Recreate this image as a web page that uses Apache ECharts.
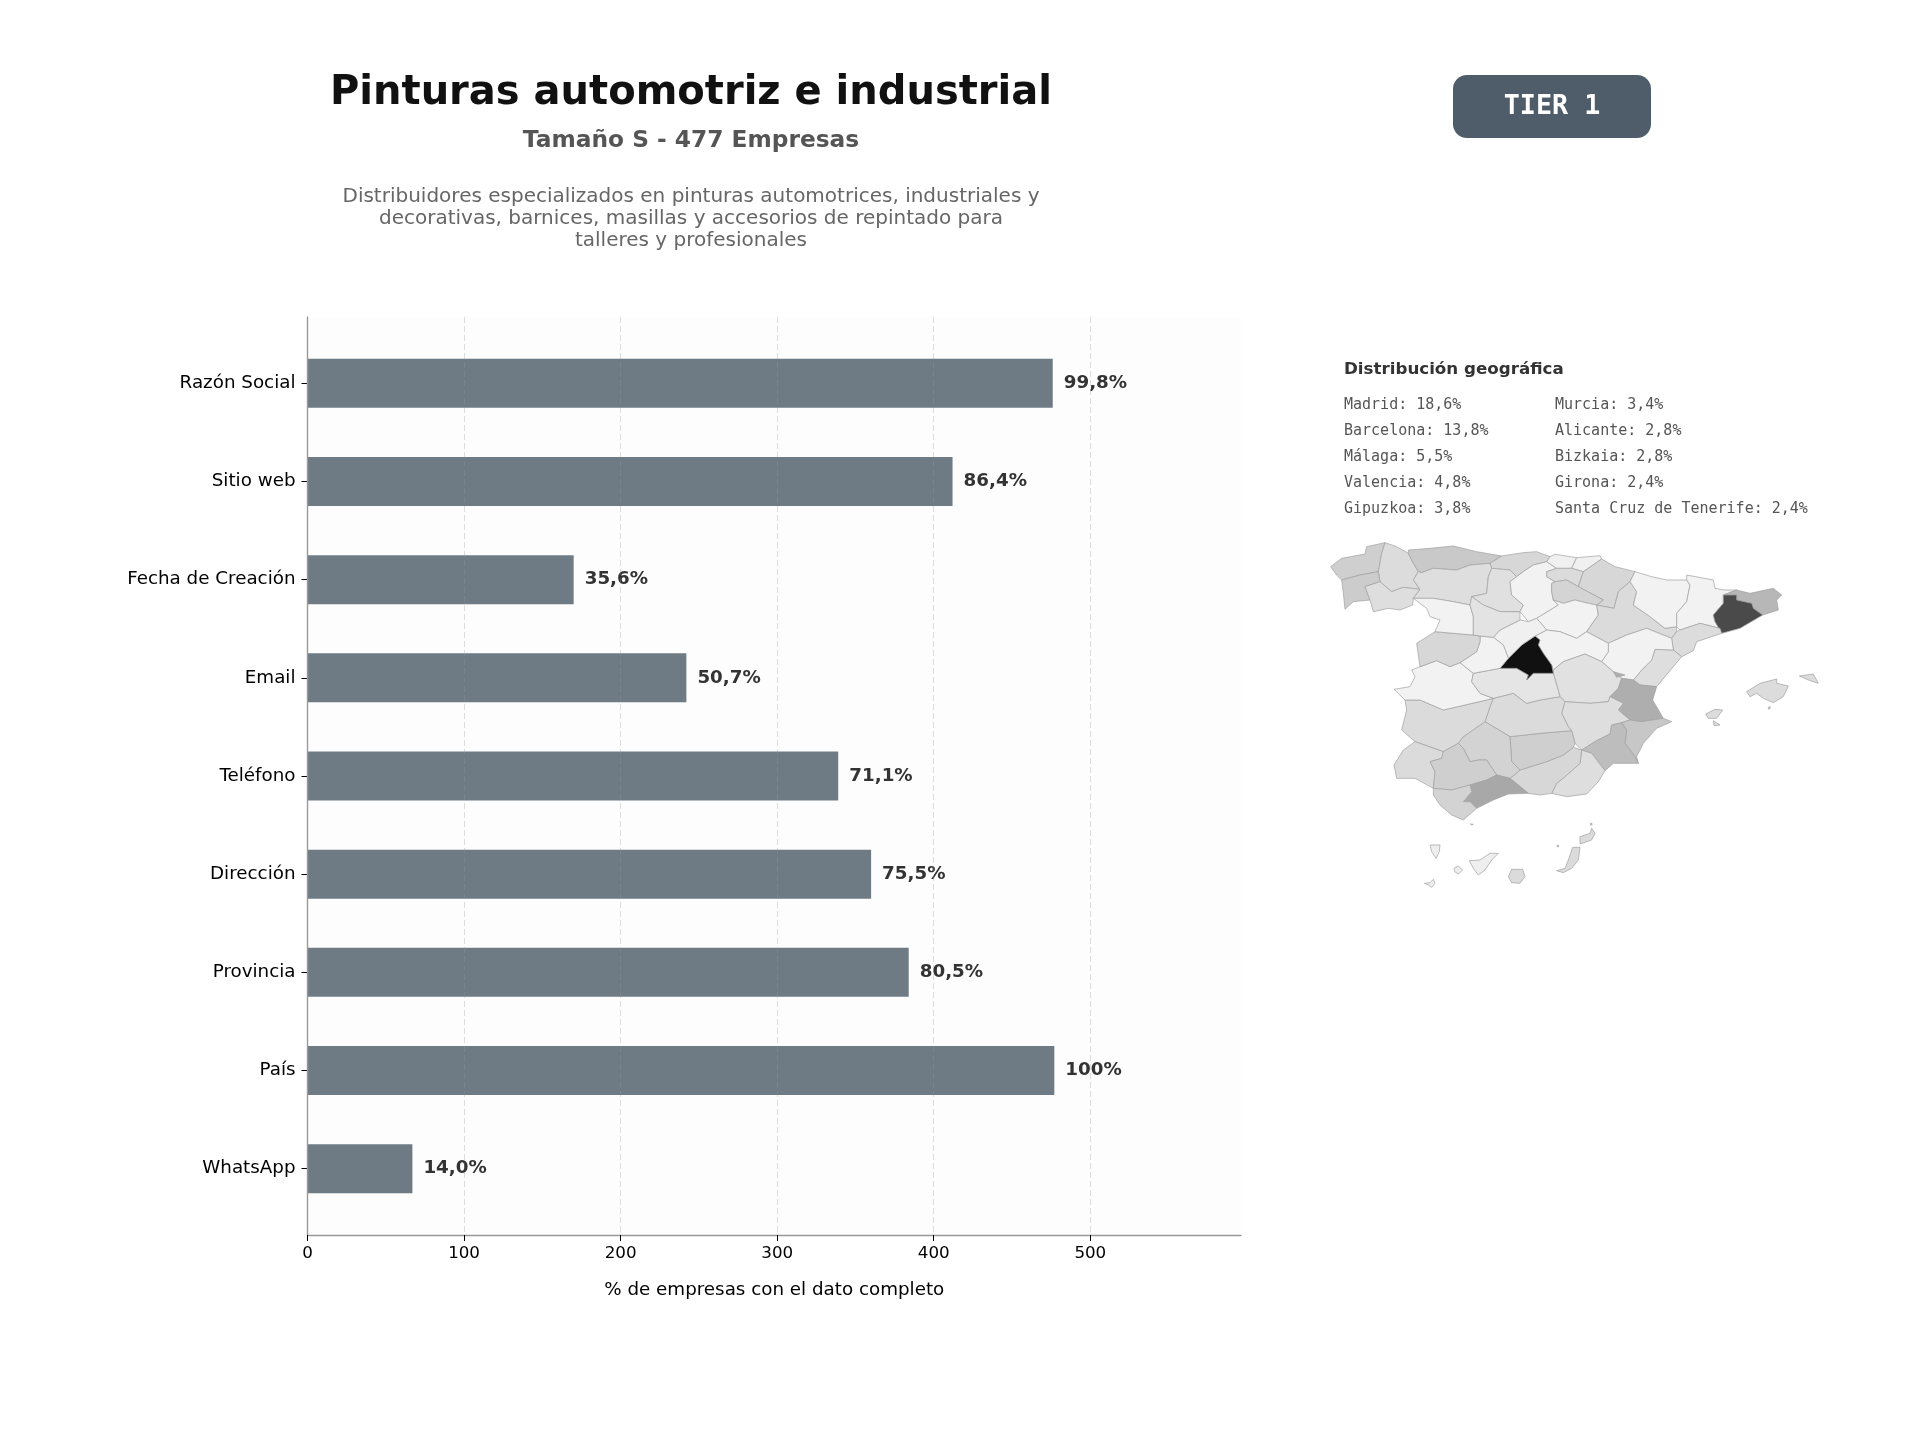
<!DOCTYPE html>
<html>
<head>
<meta charset="utf-8">
<title>Pinturas automotriz e industrial</title>
<script src="https://cdn.jsdelivr.net/npm/echarts@6/dist/echarts.min.js"></script>
<style>
html, body { margin: 0; padding: 0; background: #fff; }
#main { width: 1920px; height: 1440px; }
</style>
</head>
<body>
<div id="main"></div>
<script>
var categories = ['Razón Social', 'Sitio web', 'Fecha de Creación', 'Email', 'Teléfono', 'Dirección', 'Provincia', 'País', 'WhatsApp'];
var companies = [476, 412, 170, 242, 339, 360, 384, 477, 67];
var percentLabels = ['99,8%', '86,4%', '35,6%', '50,7%', '71,1%', '75,5%', '80,5%', '100%', '14,0%'];
var xTicks = [0, 100, 200, 300, 400, 500];

var topNamesLeft = ['Madrid', 'Barcelona', 'Málaga', 'Valencia', 'Gipuzkoa'];
var topSharesLeft = ['18,6%', '13,8%', '5,5%', '4,8%', '3,8%'];
var topNamesRight = ['Murcia', 'Alicante', 'Bizkaia', 'Girona', 'Santa Cruz de Tenerife'];
var topSharesRight = ['3,4%', '2,8%', '2,8%', '2,4%', '2,4%'];

var provinceNames = ['A Coruña', 'Lugo', 'Pontevedra', 'Ourense', 'Asturias', 'Cantabria', 'León', 'Palencia', 'Burgos', 'Bizkaia', 'Gipuzkoa', 'Álava', 'Navarra', 'La Rioja', 'Soria', 'Zaragoza', 'Huesca', 'Lleida', 'Girona', 'Barcelona', 'Tarragona', 'Castellón', 'Teruel', 'Guadalajara', 'Cuenca', 'Valencia', 'Albacete', 'Alicante', 'Murcia', 'Almería', 'Granada', 'Jaén', 'Ciudad Real', 'Córdoba', 'Badajoz', 'Cáceres', 'Huelva', 'Sevilla', 'Málaga', 'Cádiz', 'Toledo', 'Madrid', 'Segovia', 'Ávila', 'Salamanca', 'Zamora', 'Valladolid', 'Baleares', 'Santa Cruz de Tenerife', 'Las Palmas', 'Ceuta', 'Melilla'];
var provinceShades = [2.3, 1.5, 2.5, 1.4, 2.7, 1.8, 1.4, 1.3, 0.2, 0.3, 0.3, 1.6, 1.8, 2.0, 0.2, 1.6, 0.2, 0.2, 3.8, 13.8, 1.5, 1.4, 0.2, 0.2, 1.2, 4.8, 1.4, 2.8, 3.4, 1.4, 1.8, 2.3, 1.6, 2.1, 1.6, 0.2, 1.6, 2.3, 5.5, 2.1, 1.0, 18.6, 0.3, 0.2, 1.8, 0.2, 1.1, 1.5, 0.4, 1.6, 2.0, 2.0];

// contornos aproximados de las provincias
var provinceRings = {
	'A Coruña': [[[32,110],[65,85],[135,72],[140,50],[195,38],[185,70],[175,125],[120,135],[65,150],[50,135]]],
	'Lugo': [[[195,38],[230,50],[265,70],[280,100],[295,125],[280,150],[300,178],[250,172],[215,185],[180,155],[175,125],[185,70]]],
	'Pontevedra': [[[65,150],[120,135],[175,125],[180,155],[135,170],[150,210],[100,215],[75,238],[70,190]]],
	'Ourense': [[[135,170],[180,155],[215,185],[250,172],[300,178],[280,205],[278,225],[240,240],[205,235],[160,245],[150,210]]],
	'Asturias': [[[265,70],[265,60],[330,55],[400,48],[470,65],[545,78],[510,100],[450,105],[410,120],[340,115],[305,128],[295,125],[280,100]]],
	'Cantabria': [[[545,78],[610,68],[650,65],[690,80],[680,95],[640,105],[610,125],[590,140],[570,120],[515,115],[510,100]]],
	'León': [[[305,128],[340,115],[410,120],[450,105],[510,100],[515,115],[505,140],[500,190],[455,200],[450,225],[400,215],[340,205],[280,205],[300,178],[280,150],[295,125]]],
	'Palencia': [[[515,115],[570,120],[590,140],[570,155],[575,195],[610,225],[600,245],[540,245],[490,225],[455,200],[500,190],[505,140]]],
	'Burgos': [[[610,125],[640,105],[680,95],[710,115],[680,125],[680,140],[705,155],[695,160],[695,185],[700,210],[715,225],[650,265],[625,275],[600,245],[610,225],[575,195],[570,155],[590,140]]],
	'Bizkaia': [[[690,80],[705,73],[770,83],[755,115],[710,115],[680,95]]],
	'Gipuzkoa': [[[770,83],[840,77],[845,87],[790,125],[755,115]]],
	'Álava': [[[680,125],[710,115],[755,115],[790,125],[775,170],[740,150],[705,155],[680,140]]],
	'Navarra': [[[790,125],[845,87],[885,110],[945,125],[930,155],[895,185],[882,235],[830,225],[850,210],[775,170]]],
	'La Rioja': [[[705,155],[740,150],[775,170],[850,210],[830,225],[805,220],[765,210],[730,220],[700,210],[695,185],[695,160]]],
	'Soria': [[[700,210],[730,220],[765,210],[805,220],[830,225],[835,255],[800,305],[770,325],[720,305],[680,300],[650,265],[715,225]]],
	'Zaragoza': [[[830,225],[882,235],[895,185],[930,155],[950,185],[940,225],[990,260],[1035,295],[1070,290],[1070,305],[1055,325],[980,295],[920,315],[865,340],[800,305],[835,255]]],
	'Huesca': [[[945,125],[995,140],[1040,150],[1100,150],[1110,165],[1100,215],[1070,250],[1070,290],[1035,295],[990,260],[940,225],[950,185],[930,155]]],
	'Lleida': [[[1100,135],[1180,150],[1185,175],[1215,180],[1250,180],[1210,195],[1210,220],[1180,255],[1185,275],[1200,295],[1140,280],[1080,300],[1070,290],[1070,250],[1100,215],[1110,165],[1100,150]]],
	'Girona': [[[1250,180],[1290,190],[1360,175],[1385,195],[1370,210],[1375,240],[1328,255],[1300,235],[1295,220],[1250,210],[1250,195],[1210,195]]],
	'Barcelona': [[[1210,195],[1250,195],[1250,210],[1295,220],[1300,235],[1328,255],[1260,295],[1205,310],[1185,275],[1180,255],[1210,220]]],
	'Tarragona': [[[1070,305],[1080,300],[1140,280],[1200,295],[1205,310],[1130,335],[1120,362],[1085,380],[1060,360],[1055,325]]],
	'Castellón': [[[1005,358],[1060,360],[1085,380],[1010,470],[960,465],[940,450],[965,420],[995,390]]],
	'Teruel': [[[865,340],[920,315],[980,295],[1055,325],[1060,360],[1005,358],[995,390],[965,420],[940,450],[905,445],[880,425],[845,395],[865,365]]],
	'Guadalajara': [[[680,300],[720,305],[770,325],[800,305],[865,340],[865,365],[845,395],[795,372],[730,395],[700,420],[695,405],[670,370],[655,345],[660,330],[645,318]]],
	'Cuenca': [[[700,430],[700,420],[730,395],[795,372],[845,395],[880,425],[905,445],[895,475],[870,500],[865,515],[810,520],[735,515],[720,500]]],
	'Valencia': [[[905,445],[940,450],[960,465],[1010,470],[998,510],[1030,565],[965,575],[930,570],[895,540],[910,520],[870,500],[895,475]], [[880,425],[915,435],[890,442]]],
	'Albacete': [[[735,515],[810,520],[865,515],[870,500],[910,520],[895,540],[930,570],[905,578],[875,585],[870,612],[830,632],[785,660],[765,640],[755,602],[745,590],[725,550]]],
	'Alicante': [[[905,578],[930,570],[965,575],[1030,565],[1055,575],[1010,595],[970,640],[950,680],[955,700],[945,680],[915,640],[920,600]]],
	'Murcia': [[[785,660],[830,632],[870,612],[875,585],[905,578],[920,600],[915,640],[945,680],[955,700],[880,700],[855,722],[815,670]]],
	'Almería': [[[785,660],[815,670],[855,722],[835,755],[800,792],[740,800],[695,790],[710,760],[735,740],[780,700]]],
	'Granada': [[[600,720],[680,695],[730,675],[760,652],[785,660],[780,700],[735,740],[710,760],[695,790],[660,795],[625,790],[570,745],[595,725]]],
	'Jaén': [[[570,620],[660,610],[755,602],[765,640],[760,652],[730,675],[680,695],[600,720],[575,695]]],
	'Ciudad Real': [[[520,505],[580,490],[620,520],[660,510],[720,500],[735,515],[725,550],[745,590],[755,602],[660,610],[570,620],[495,575],[510,530]]],
	'Córdoba': [[[430,620],[495,575],[570,620],[575,695],[600,720],[595,725],[570,745],[530,735],[500,690],[475,690],[450,695],[430,655],[415,640]]],
	'Badajoz': [[[255,510],[300,510],[370,540],[500,510],[520,505],[510,530],[495,575],[430,620],[415,640],[370,665],[285,635],[245,600],[260,540]]],
	'Cáceres': [[[255,510],[300,510],[370,540],[500,510],[520,505],[480,490],[455,455],[460,430],[420,398],[390,410],[350,392],[300,410],[275,420],[285,440],[270,470],[222,478]]],
	'Huelva': [[[285,635],[370,665],[365,685],[330,695],[345,725],[340,775],[285,745],[230,745],[222,705],[250,660]]],
	'Sevilla': [[[370,665],[415,640],[430,655],[450,695],[475,690],[500,690],[530,735],[500,750],[450,765],[395,780],[340,775],[345,725],[330,695],[365,685]]],
	'Málaga': [[[430,815],[455,785],[450,765],[500,750],[530,735],[570,745],[625,790],[565,792],[520,810],[470,835],[450,815]]],
	'Cádiz': [[[340,775],[395,780],[450,765],[455,785],[430,815],[450,815],[470,835],[430,870],[395,855],[360,825],[340,795]]],
	'Toledo': [[[460,430],[540,415],[590,415],[625,435],[620,450],[640,430],[700,430],[720,500],[660,510],[620,520],[580,490],[520,505],[480,490],[455,455]]],
	'Madrid': [[[645,318],[660,330],[655,345],[670,370],[695,405],[700,430],[640,430],[620,450],[625,435],[590,415],[540,415],[565,385],[605,345]]],
	'Segovia': [[[600,270],[625,275],[650,265],[680,300],[645,318],[605,345],[565,385],[550,345],[520,322],[540,300]]],
	'Ávila': [[[480,318],[520,322],[550,345],[565,385],[540,415],[460,430],[420,398],[470,365],[480,335]]],
	'Salamanca': [[[345,305],[400,310],[460,315],[480,318],[480,335],[470,365],[420,398],[390,410],[350,392],[300,410],[290,340]]],
	'Zamora': [[[280,205],[340,205],[400,215],[450,225],[460,260],[460,315],[400,310],[345,305],[360,270],[330,260],[320,235]]],
	'Valladolid': [[[455,200],[490,225],[540,245],[600,245],[600,270],[540,300],[520,322],[480,318],[460,315],[460,260],[450,225]]],
	'Baleares': [[[1280,485],[1320,460],[1370,447],[1370,460],[1405,468],[1390,500],[1360,518],[1330,505],[1310,490],[1290,500]], [[1438,438],[1480,432],[1495,460],[1465,450]], [[1157,552],[1185,538],[1208,540],[1190,565],[1165,565]], [[1180,572],[1200,585],[1182,587]], [[1345,532],[1351,530],[1350,536],[1345,537]]],
	'Santa Cruz de Tenerife': [[[330,945],[360,945],[358,965],[348,985],[335,965]], [[448,992],[480,990],[510,970],[535,970],[515,990],[495,1020],[475,1035],[460,1015]], [[402,1015],[415,1008],[428,1020],[415,1032],[404,1025]], [[313,1060],[330,1058],[340,1048],[345,1060],[335,1072],[325,1065]]],
	'Las Palmas': [[[575,1018],[608,1018],[615,1040],[600,1060],[575,1058],[565,1040]], [[758,952],[780,952],[775,990],[755,1015],[730,1028],[710,1022],[735,1015],[745,990]], [[780,920],[810,910],[815,895],[825,910],[815,930],[780,942]], [[811,880],[816,880],[816,885],[811,885]]],
	'Ceuta': [[[451,882],[460,883],[455,885]]],
	'Melilla': [[[711,946],[716,946],[716,950],[711,950]]]
};

function buildGeoJson() {
	var features = provinceNames.map(function(name) {
		var polys = provinceRings[name].map(function(ring) {
			var pts = ring.map(function(p) { return [p[0], -p[1]]; });
			pts.push(pts[0]);
			return [pts];
		});
		return {
			type: 'Feature',
			properties: { name: name },
			geometry: { type: 'MultiPolygon', coordinates: polys }
		};
	});
	return { type: 'FeatureCollection', features: features };
}

echarts.registerMap('espana', buildGeoJson());

var mapData = provinceNames.map(function(name, i) {
	return { name: name, value: provinceShades[i] };
});

var fontSans = '"DejaVu Sans", sans-serif';
var fontMono = '"DejaVu Sans Mono", monospace';

var plotLeft = 307.5, plotWidth = 933.5, plotTop = 317, plotHeight = 918;
var xMax = 596.25;
var bandInset = 17.2;

// textos del panel geografico
function geoListTexts(names, shares, x) {
	return names.map(function(name, i) {
		return {
			type: 'text',
			x: x,
			y: 405.2 + i * 26.1,
			style: {
				text: name + ': ' + shares[i],
				fill: '#555555',
				font: '15px ' + fontMono,
				textAlign: 'left',
				textVerticalAlign: 'middle'
			}
		};
	});
}

var graphics = [{
	type: 'rect',
	shape: { x: 1453, y: 75, width: 198, height: 63, r: 14 },
	style: { fill: '#4f5d6b' }
}, {
	type: 'text',
	x: 1552,
	y: 107,
	style: {
		text: 'TIER 1',
		fill: '#ffffff',
		font: 'bold 26.7px ' + fontMono,
		textAlign: 'center',
		textVerticalAlign: 'middle'
	}
}, {
	type: 'text',
	x: 1344,
	y: 369.5,
	style: {
		text: 'Distribución geográfica',
		fill: '#333333',
		font: 'bold 16.7px ' + fontSans,
		textAlign: 'left',
		textVerticalAlign: 'middle'
	}
}].concat(geoListTexts(topNamesLeft, topSharesLeft, 1344), geoListTexts(topNamesRight, topSharesRight, 1555));

var option = {
	backgroundColor: '#ffffff',
	animation: false,
	title: [{
		text: 'Pinturas automotriz e industrial',
		left: 686,
		top: 69,
		textAlign: 'center',
		textStyle: { fontFamily: fontSans, fontSize: 40, fontWeight: 'bold', color: '#111111' }
	}, {
		text: 'Tamaño S - 477 Empresas',
		left: 686,
		top: 124.5,
		textAlign: 'center',
		textStyle: { fontFamily: fontSans, fontSize: 23.3, fontWeight: 'bold', color: '#555555' }
	}, {
		text: 'Distribuidores especializados en pinturas automotrices, industriales y\ndecorativas, barnices, masillas y accesorios de repintado para\ntalleres y profesionales',
		left: 686,
		top: 180.5,
		textAlign: 'center',
		textStyle: { fontFamily: fontSans, fontSize: 20, fontWeight: 'normal', color: '#666666', lineHeight: 22, align: 'center' }
	}],
	grid: [{
		left: plotLeft, top: plotTop, width: plotWidth, height: plotHeight,
		show: true, backgroundColor: '#fdfdfd', borderWidth: 0
	}, {
		left: plotLeft, top: plotTop + bandInset, width: plotWidth, height: plotHeight - 2 * bandInset
	}],
	xAxis: [{
		gridIndex: 0,
		type: 'value',
		min: 0,
		max: xMax,
		interval: 100,
		z: 5,
		name: '% de empresas con el dato completo',
		nameLocation: 'middle',
		nameGap: 46,
		nameTextStyle: { fontFamily: fontSans, fontSize: 18.3, color: '#000000' },
		axisLine: { show: true, lineStyle: { color: '#999999', width: 1.4 } },
		axisTick: { show: true, length: 6, lineStyle: { color: '#000000', width: 1 },
			customValues: xTicks },
		axisLabel: { fontFamily: fontSans, fontSize: 16.7, color: '#000000', margin: 10,
			customValues: xTicks, hideOverlap: false },
		splitLine: { show: true, lineStyle: { color: 'rgba(150,150,150,0.3)', type: [6, 3], width: 1 } }
	}, {
		gridIndex: 1,
		type: 'value',
		min: 0,
		max: xMax,
		show: false
	}],
	yAxis: [{
		gridIndex: 0,
		type: 'value',
		min: 0,
		max: 1,
		z: 5,
		axisLine: { show: true, lineStyle: { color: '#999999', width: 1.4 } },
		axisTick: { show: false },
		axisLabel: { show: false },
		splitLine: { show: false }
	}, {
		gridIndex: 1,
		type: 'category',
		inverse: true,
		data: categories,
		axisLine: { show: false },
		axisTick: { show: true, length: 6, alignWithLabel: true, lineStyle: { color: '#000000', width: 1 } },
		axisLabel: {
			fontFamily: fontSans, fontSize: 18.3, color: '#000000', margin: 12, interval: 0,
			verticalAlign: 'middle', lineHeight: 22, padding: [4, 0, 0, 0]
		}
	}],
	visualMap: {
		show: false,
		seriesIndex: 1,
		min: 0,
		max: 18.6,
		inRange: { color: ['#f5f5f5', '#b8b8b8', '#969696', '#696969', '#3e3e3e', '#111111'] }
	},
	series: [{
		type: 'bar',
		xAxisIndex: 1,
		yAxisIndex: 1,
		data: companies,
		barWidth: 49,
		itemStyle: { color: '#6f7b84' },
		label: {
			show: true,
			position: 'right',
			distance: 11,
			fontFamily: fontSans,
			fontSize: 18.3,
			fontWeight: 'bold',
			color: '#333333',
			formatter: function(p) { return percentLabels[p.dataIndex]; }
		},
		silent: true
	}, {
		type: 'map',
		map: 'espana',
		left: 1320,
		top: 530,
		width: 500,
		height: 360,
		aspectScale: 1,
		boundingCoords: [[0, 0], [1500, -1080]],
		roam: false,
		silent: true,
		label: { show: false },
		itemStyle: { borderColor: '#a0a0a0', borderWidth: 0.7 },
		emphasis: { disabled: true },
		data: mapData
	}],
	graphic: graphics
};

var chart = echarts.init(document.getElementById('main'));
chart.setOption(option);
</script>
</body>
</html>
